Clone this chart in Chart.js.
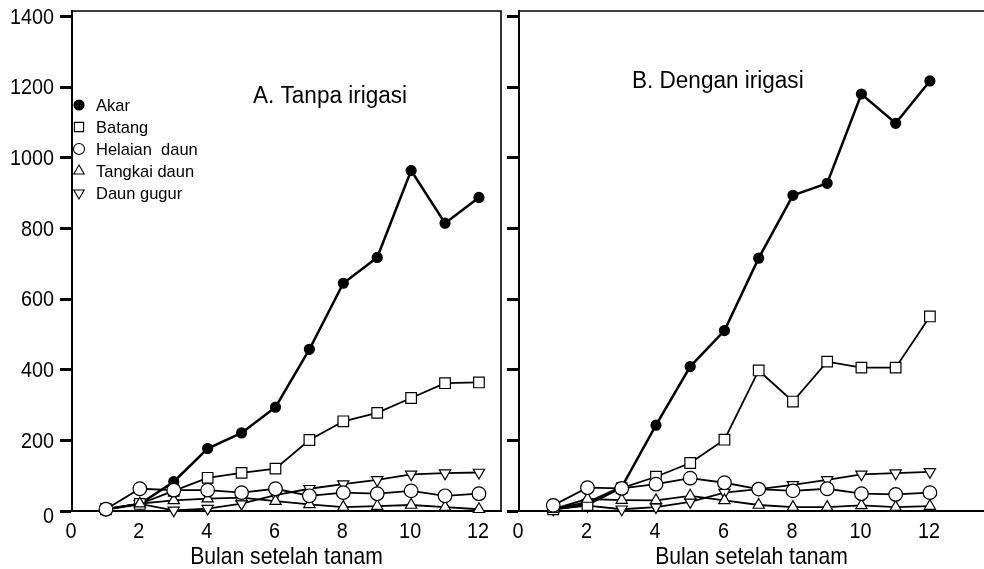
<!DOCTYPE html>
<html>
<head>
<meta charset="utf-8">
<script src="https://cdn.jsdelivr.net/npm/chart.js@4"></script>
<style>
  html, body { margin: 0; padding: 0; background: #fff; }
  #wrap { position: relative; width: 984px; height: 569px; overflow: hidden; }
  #cA { position: absolute; left: 0; top: 0; }
  #cB { position: absolute; left: 505px; top: 0; }
</style>
</head>
<body>
<div id="wrap">
  <canvas id="cA" width="505" height="569"></canvas>
  <canvas id="cB" width="479" height="569"></canvas>
</div>
<script>
// ---- data ----
const months = [1, 2, 3, 4, 5, 6, 7, 8, 9, 10, 11, 12];
const xTickValues = [0, 2, 4, 6, 8, 10, 12];
const yTickValues = [0, 200, 400, 600, 800, 1000, 1200, 1400];
const seriesNames = ['Akar', 'Batang', 'Helaian  daun', 'Tangkai daun', 'Daun gugur'];
const panelTitles = ['A. Tanpa irigasi', 'B. Dengan irigasi'];
const xAxisTitle = 'Bulan setelah tanam';

const A_akar    = [5, 20, 83, 177, 221, 294, 458, 645, 718, 964, 815, 888];
const A_batang  = [5, 20, 57, 94, 108, 120, 201, 254, 278, 320, 362, 364];
const A_helaian = [5, 63, 59, 59, 52, 63, 43, 52, 49, 57, 43, 49];
const A_tangkai = [5, 21, 30, 35, 38, 28, 19, 11, 14, 17, 11, 5];
const A_gugur   = [5, 20, 2, 7, 21, 45, 63, 76, 88, 104, 107, 109];

const B_akar    = [5, 24, 68, 243, 409, 511, 716, 894, 928, 1181, 1098, 1218];
const B_batang  = [5, 17, 65, 97, 136, 202, 398, 310, 423, 406, 406, 551];
const B_helaian = [16, 66, 64, 76, 93, 80, 62, 57, 63, 49, 47, 52];
const B_tangkai = [5, 34, 31, 30, 43, 30, 17, 11, 11, 16, 11, 14];
const B_gugur   = [5, 15, 5, 11, 26, 52, 62, 74, 88, 104, 107, 111];

// ---- styles ----
const FONT = "'Liberation Sans', Arial, sans-serif";
const NARROW = 0.88;
const markerStyles = [
  { pointStyle: 'circle',   radius: 5,   fill: '#000', rot: 0,   lw: 2.5 },
  { pointStyle: 'rect',     radius: 7.5, fill: '#fff', rot: 0,   lw: 1.8 },
  { pointStyle: 'circle',   radius: 6.8, fill: '#fff', rot: 0,   lw: 1.8 },
  { pointStyle: 'triangle', radius: 6.5, fill: '#fff', rot: 0,   lw: 1.8 },
  { pointStyle: 'triangle', radius: 6.5, fill: '#fff', rot: 180, lw: 1.8 }
];

function drawText(ctx, text, x, y, size, align, sx) {
  ctx.save();
  ctx.fillStyle = '#000';
  ctx.font = size + 'px ' + FONT;
  ctx.textBaseline = 'middle';
  ctx.textAlign = align;
  ctx.translate(x, y);
  ctx.scale(sx, 1);
  ctx.fillText(text, 0, 0);
  ctx.restore();
}

function makeDatasets(arrs) {
  const order = [3, 2, 0, 1, 4];
  return arrs.map((vals, i) => ({
    label: seriesNames[i],
    data: months.map((m, j) => ({ x: m, y: vals[j] })),
    borderColor: '#000',
    borderWidth: markerStyles[i].lw,
    backgroundColor: markerStyles[i].fill,
    pointStyle: markerStyles[i].pointStyle,
    pointRadius: markerStyles[i].radius,
    pointRotation: markerStyles[i].rot,
    pointBorderWidth: 1.2,
    pointBorderColor: '#000',
    pointBackgroundColor: markerStyles[i].fill,
    tension: 0,
    clip: false,
    order: order[i]
  }));
}

const boxPlugin = (openRight) => ({
  id: 'boxPlugin',
  afterDraw(chart) {
    const a = chart.chartArea, ctx = chart.ctx;
    ctx.save();
    ctx.strokeStyle = '#000';
    ctx.lineWidth = 1.6;
    ctx.beginPath();
    if (openRight) {
      ctx.moveTo(a.left, a.top); ctx.lineTo(chart.width + 2, a.top);
    } else {
      ctx.moveTo(a.left, a.top); ctx.lineTo(a.right, a.top); ctx.lineTo(a.right, a.bottom);
    }
    ctx.stroke();
    ctx.restore();
  }
});

// axis labels and titles, placed through the chart's own scales
const labelPlugin = (opts) => ({
  id: 'labelPlugin',
  afterDraw(chart) {
    const ctx = chart.ctx;
    const xs = chart.scales.x, ys = chart.scales.y;
    xs.ticks.forEach(t => {
      drawText(ctx, String(t.value), xs.getPixelForValue(t.value) - 1, 532, 22.5, 'center', NARROW);
    });
    if (opts.showYLabels) {
      ys.ticks.forEach(t => {
        const dy = t.value === 0 ? 6 : 1;
        drawText(ctx, String(t.value), ys.right - 18, ys.getPixelForValue(t.value) + dy, 22.5, 'right', NARROW);
      });
    }
    const a = chart.chartArea;
    drawText(ctx, xAxisTitle, (a.left + a.right) / 2, 557, 24, 'center', NARROW);
    drawText(ctx, opts.title, opts.titleX, opts.titleY, 23, 'left', 0.98);
  }
});

const legendPlugin = {
  id: 'legendPlugin',
  afterDraw(chart) {
    const ctx = chart.ctx;
    ctx.save();
    const x0 = 79, y0 = 105, dy = 22;
    const legSizes = [5, 6.5, 5.5, 6, 6];
    seriesNames.forEach((name, i) => {
      const y = y0 + i * dy;
      ctx.strokeStyle = '#000';
      ctx.fillStyle = markerStyles[i].fill;
      ctx.lineWidth = 1.1;
      Chart.helpers.drawPoint(ctx, { pointStyle: markerStyles[i].pointStyle, rotation: markerStyles[i].rot, radius: legSizes[i], borderWidth: 1.1 }, x0, y);
      drawText(ctx, name, 96, y + 1, 17, 'left', 0.97);
    });
    ctx.restore();
  }
};

function zeroPad(s) { s.paddingTop = 0; s.paddingBottom = 0; s.paddingLeft = 0; s.paddingRight = 0; }

function makeChart(canvasId, arrs, opts) {
  const ctx = document.getElementById(canvasId);
  const plugins = [boxPlugin(opts.openRight), labelPlugin(opts)];
  if (opts.legend) plugins.push(legendPlugin);
  return new Chart(ctx, {
    type: 'line',
    data: { datasets: makeDatasets(arrs) },
    options: {
      responsive: false,
      animation: false,
      layout: { autoPadding: false, padding: { left: 0, right: opts.padRight, top: 11, bottom: 0 } },
      plugins: { legend: { display: false }, tooltip: { enabled: false } },
      scales: {
        x: {
          type: 'linear',
          min: 0,
          max: opts.xMax,
          afterBuildTicks: (s) => { s.ticks = xTickValues.map(v => ({ value: v })); },
          afterFit: (s) => { s.height = 58; zeroPad(s); },
          grid: { display: false, drawTicks: false },
          border: { display: true, color: '#000', width: 2 },
          ticks: { display: false }
        },
        y: {
          min: 0,
          max: 1416,
          afterBuildTicks: (s) => { s.ticks = yTickValues.map(v => ({ value: v })); },
          afterFit: (s) => { s.width = opts.yWidth; zeroPad(s); },
          grid: { display: true, drawOnChartArea: false, drawTicks: true, tickLength: 12, tickWidth: 3, tickColor: '#000', color: '#000' },
          border: { display: true, color: '#000', width: 2 },
          ticks: { display: false }
        }
      }
    },
    plugins: plugins
  });
}

makeChart('cA', [A_akar, A_batang, A_helaian, A_tangkai, A_gugur], {
  xMax: 12.65, padRight: 4, yWidth: 72, showYLabels: true, openRight: false,
  legend: true, title: panelTitles[0], titleX: 253, titleY: 97
});
makeChart('cB', [B_akar, B_batang, B_helaian, B_tangkai, B_gugur], {
  xMax: 13.58, padRight: 0, yWidth: 14, showYLabels: false, openRight: true,
  legend: false, title: panelTitles[1], titleX: 127, titleY: 82
});
</script>
</body>
</html>
